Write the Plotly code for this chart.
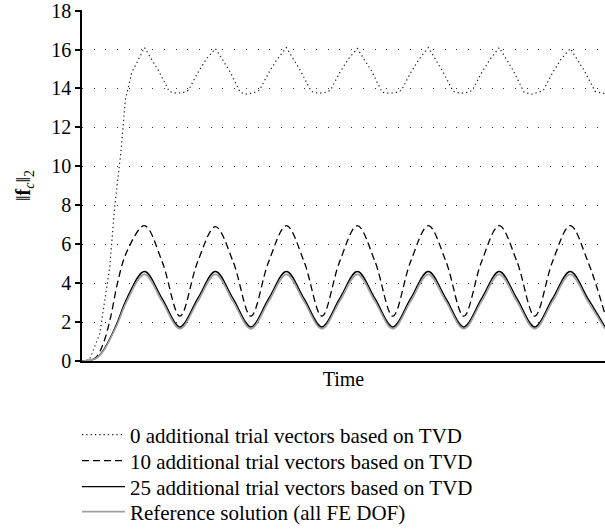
import plotly.graph_objects as go

# ---- data (time in arbitrary units) ----
y_tick_values = [0, 2, 4, 6, 8, 10, 12, 14, 16, 18]
y_tick_labels = ["0", "2", "4", "6", "8", "10", "12", "14", "16", "18"]

series_names = [
    "0 additional trial vectors based on TVD",
    "10 additional trial vectors based on TVD",
    "25 additional trial vectors based on TVD",
    "Reference solution (all FE DOF)",
]

# time samples for the smooth (10, 25, reference) curves
t_smooth = [0.0, 0.1, 0.2, 0.3, 0.4, 0.5, 0.63,
            0.88, 1.13, 1.38, 1.63, 1.88, 2.13, 2.38, 2.63, 2.88, 3.13, 3.38, 3.63,
            3.88, 4.13, 4.38, 4.63, 4.88, 5.13, 5.38, 5.63, 5.88, 6.13, 6.38, 6.63,
            6.88, 7.13, 7.37]

fc_10 = [0.0, 0.03, 0.2, 0.9, 2.2, 4.0, 5.6,
         6.95, 5.1, 2.3, 5.1, 6.9, 5.1, 2.3, 5.1, 6.95, 5.1, 2.3, 5.1,
         6.95, 5.1, 2.3, 5.1, 6.95, 5.1, 2.3, 5.1, 6.95, 5.1, 2.3, 5.1,
         6.95, 5.1, 2.4]

fc_25 = [0.0, 0.03, 0.15, 0.55, 1.2, 2.0, 3.2,
         4.6, 3.2, 1.75, 3.2, 4.6, 3.2, 1.75, 3.2, 4.6, 3.2, 1.75, 3.2,
         4.6, 3.2, 1.75, 3.2, 4.6, 3.2, 1.75, 3.2, 4.6, 3.2, 1.75, 3.2,
         4.6, 3.2, 1.75]

fc_ref = [0.0, 0.03, 0.14, 0.5, 1.15, 1.9, 3.05,
          4.45, 3.05, 1.65, 3.05, 4.45, 3.05, 1.65, 3.05, 4.45, 3.05, 1.65, 3.05,
          4.45, 3.05, 1.65, 3.05, 4.45, 3.05, 1.65, 3.05, 4.45, 3.05, 1.65, 3.05,
          4.45, 3.05, 1.65]

# time samples for the dotted (0 vectors) curve
t_dotted = [0.0, 0.05, 0.11, 0.25, 0.39, 0.46, 0.55, 0.61, 0.70, 0.82, 0.88,
            0.98, 1.08, 1.23, 1.33, 1.43, 1.50, 1.63, 1.75, 1.88,
            1.98, 2.08, 2.23, 2.33, 2.43, 2.50, 2.63, 2.75, 2.88,
            2.98, 3.08, 3.23, 3.33, 3.43, 3.50, 3.63, 3.75, 3.88,
            3.98, 4.08, 4.23, 4.33, 4.43, 4.50, 4.63, 4.75, 4.88,
            4.98, 5.08, 5.23, 5.33, 5.43, 5.50, 5.63, 5.75, 5.88,
            5.98, 6.08, 6.23, 6.33, 6.43, 6.50, 6.63, 6.75, 6.88,
            6.98, 7.08, 7.23, 7.33, 7.37]

fc_0 = [0.0, 0.02, 0.1, 1.4, 4.8, 7.9, 10.8, 13.4, 14.8, 15.7, 16.1,
        15.5, 14.9, 13.85, 13.75, 13.8, 13.9, 14.8, 15.5, 16.05,
        15.5, 14.9, 13.8, 13.7, 13.8, 13.9, 14.8, 15.5, 16.1,
        15.5, 14.9, 13.85, 13.75, 13.8, 13.9, 14.8, 15.5, 16.05,
        15.5, 14.9, 13.8, 13.75, 13.8, 13.9, 14.8, 15.5, 16.1,
        15.5, 14.9, 13.85, 13.75, 13.8, 13.9, 14.8, 15.5, 16.1,
        15.5, 14.9, 13.8, 13.7, 13.8, 13.9, 14.8, 15.5, 16.05,
        15.5, 14.9, 13.85, 13.75, 13.75]

FONT = "Liberation Serif"

fig = go.Figure()
fig.add_trace(go.Scatter(x=t_dotted, y=fc_0, mode="lines", name=series_names[0], legend="legend",
                         line=dict(color="#222222", width=1.2, dash="1.3px,3px")))
fig.add_trace(go.Scatter(x=t_smooth, y=fc_10, mode="lines", name=series_names[1], legend="legend2",
                         line=dict(color="black", width=1.3, dash="7px,4px", shape="spline")))
fig.add_trace(go.Scatter(x=t_smooth, y=fc_25, mode="lines", name=series_names[2], legend="legend3",
                         line=dict(color="black", width=1.4, shape="spline")))
fig.add_trace(go.Scatter(x=t_smooth, y=fc_ref, mode="lines", name=series_names[3], legend="legend4",
                         line=dict(color="#a0a0a0", width=1.6, shape="spline")))

def leg(ypx):
    return dict(x=-0.0096, xanchor="left", y=(361 - ypx) / 351.0, yanchor="middle",
                font=dict(family=FONT, size=21, color="black"),
                itemwidth=43, bgcolor="rgba(0,0,0,0)", borderwidth=0)

fig.update_layout(
    width=605, height=529,
    margin=dict(l=82, r=0, t=10, b=168, autoexpand=False),
    paper_bgcolor="white", plot_bgcolor="white",
    font=dict(family=FONT, size=20, color="black"),
    showlegend=True,
    legend=leg(435), legend2=leg(461), legend3=leg(487), legend4=leg(512),
    xaxis=dict(range=[0, 7.37], showgrid=False, zeroline=False,
               showline=True, linecolor="black", linewidth=1.8,
               showticklabels=False, ticks="",
               title=dict(text="Time", font=dict(family=FONT, size=20), standoff=10)),
    yaxis=dict(range=[0, 18.03], tickmode="array", tickvals=y_tick_values, ticktext=y_tick_labels,
               showgrid=True, gridcolor="#333333", gridwidth=1, griddash="1px,10.7px",
               zeroline=False, showline=True, linecolor="black", linewidth=1.5,
               ticks="outside", ticklen=5, tickwidth=1.5, tickcolor="black",
               ticklabeloverflow="allow",
               tickfont=dict(family=FONT, size=20),
               title=dict(text="‖<b>f</b><sub><i>c</i></sub>‖<sub>2</sub>",
                          font=dict(family=FONT, size=20), standoff=15)),
)

fig.write_html("out.html")
